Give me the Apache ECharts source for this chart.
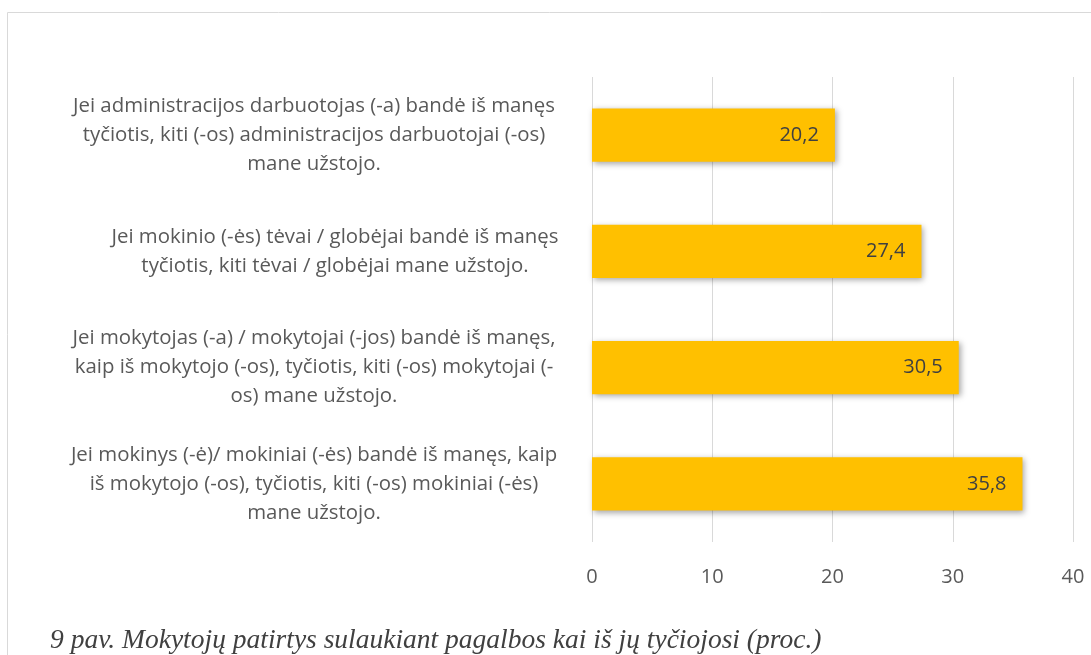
<!DOCTYPE html>
<html>
<head>
<meta charset="utf-8">
<script src="https://cdn.jsdelivr.net/npm/echarts@6/dist/echarts.min.js"></script>
<style>
  html, body { margin: 0; padding: 0; background: #fff; }
  #chart { width: 1091px; height: 655px; }
</style>
</head>
<body>
<div id="chart"></div>
<script>
// categories top to bottom, wrapped the way the original chart wraps them
let categories = [
    'Jei administracijos darbuotojas (-a) bandė iš manęs\ntyčiotis, kiti (-os) administracijos darbuotojai (-os)\nmane užstojo.',
    'Jei mokinio (-ės) tėvai / globėjai bandė iš manęs\ntyčiotis, kiti tėvai / globėjai mane užstojo.',
    'Jei mokytojas (-a) / mokytojai (-jos) bandė iš manęs,\nkaip iš mokytojo (-os), tyčiotis, kiti (-os) mokytojai (-\nos) mane užstojo.',
    'Jei mokinys (-ė)/ mokiniai (-ės) bandė iš manęs, kaip\niš mokytojo (-os), tyčiotis, kiti (-os) mokiniai (-ės)\nmane užstojo.'
];
let values = [20.2, 27.4, 30.5, 35.8];
let caption = '9 pav. Mokytojų patirtys sulaukiant pagalbos kai iš jų tyčiojosi (proc.)';

let chart = echarts.init(document.getElementById('chart'));

let option = {
    animation: false,
    graphic: [
        {
            type: 'rect',
            shape: { x: 7.5, y: 12.5, width: 1200, height: 800 },
            style: { fill: 'none', stroke: '#d9d9d9', lineWidth: 1 },
            silent: true
        },
        {
            type: 'text',
            left: 50,
            top: 627,
            style: {
                text: caption,
                font: 'italic 27.5px "Liberation Serif", serif',
                fill: '#404040'
            }
        }
    ],
    grid: {
        left: 592,
        right: 18,
        top: 77,
        bottom: 113
    },
    xAxis: {
        type: 'value',
        min: 0,
        max: 40,
        interval: 10,
        axisLine: { show: false },
        axisTick: { show: false },
        axisLabel: {
            margin: 25,
            color: '#595959',
            fontFamily: 'Open Sans',
            fontSize: 20
        },
        splitLine: { lineStyle: { color: '#d9d9d9', width: 1 } }
    },
    yAxis: {
        type: 'category',
        inverse: true,
        data: categories,
        axisLine: { show: false },
        axisTick: { show: false },
        axisLabel: {
            align: 'center',
            margin: 278,
            color: '#595959',
            fontFamily: 'Open Sans',
            fontSize: 20.4,
            lineHeight: 29,
            formatter: function (v, i) {
                return i === 1 ? '{b|' + v.split('\n').join('}\n{b|') + '}' : v;
            },
            rich: {
                b: {
                    color: '#595959',
                    fontFamily: 'Open Sans',
                    fontSize: 20.4,
                    lineHeight: 29,
                    padding: [0, 0, 0, 42]
                }
            }
        }
    },
    series: [
        {
            type: 'bar',
            data: values,
            barCategoryGap: '54%',
            itemStyle: {
                color: '#ffc000',
                shadowBlur: 6,
                shadowOffsetX: 2,
                shadowOffsetY: 2,
                shadowColor: 'rgba(0,0,0,0.35)'
            },
            label: {
                show: true,
                position: 'insideRight',
                distance: 16,
                color: '#404040',
                fontFamily: 'Open Sans',
                fontSize: 20,
                formatter: function (p) {
                    return p.value.toFixed(1).replace('.', ',');
                }
            }
        }
    ]
};

chart.setOption(option);
</script>
</body>
</html>
